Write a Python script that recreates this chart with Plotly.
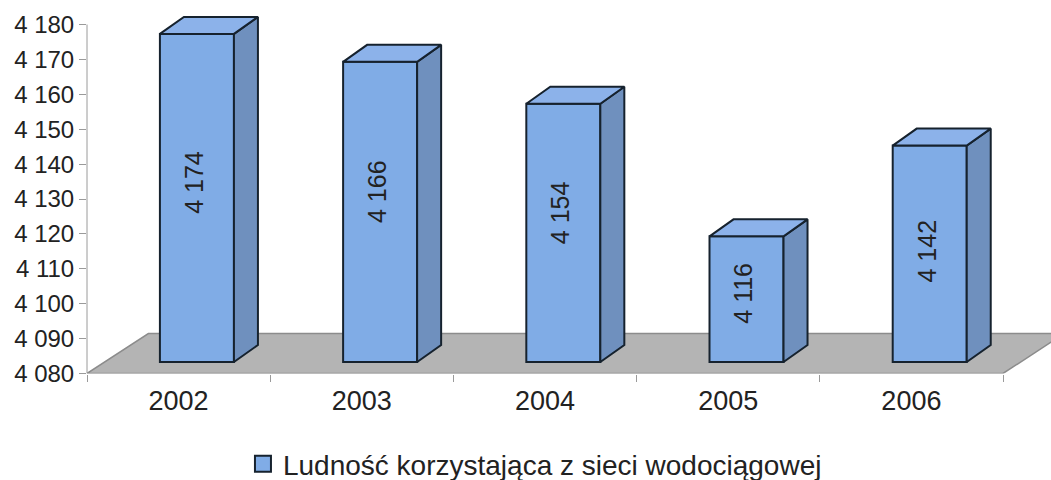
import plotly.graph_objects as go

years = ["2002", "2003", "2004", "2005", "2006"]
values = [4174, 4166, 4154, 4116, 4142]
y_ticks = [4080, 4090, 4100, 4110, 4120, 4130, 4140, 4150, 4160, 4170, 4180]
series_name = "Ludność korzystająca z sieci wodociągowej"

# geometry of the pseudo-3D look, in axis units
W, H = 1051, 480
Y_BASE = 4080
Y_TOP = 4180
Y_HEADROOM = 4186        # room above the axis for the bar tops
PX_PER_UNIT = 3.49
X_SHIFT, BAR_W = 0.10, 0.404
DEPTH_X, DEPTH_Y = 0.131, 4.87
FRONT_LIFT = 3.3
FLOOR_X, FLOOR_Y = 0.335, 11.46
LABEL_YSHIFT = [16, 20, 20, 6, 3]
FRONT, SIDE, TOP, EDGE = "#80ACE6", "#6F90BE", "#8CB2EA", "#16222E"
FLOOR, FLOOR_EDGE, TEXT, AXIS = "#B4B4B4", "#8C8C8C", "#222222", "#9A9A9A"
FONT = "Liberation Sans"

px_x = 183.2
x_end = (W - 87) / px_x
centers = [i + 0.5 for i in range(len(years))]
fmt = lambda v: f"{v // 1000} {v % 1000:03d}"

fig = go.Figure()
fig.add_trace(go.Bar(
    x=[c + X_SHIFT for c in centers],
    y=[v - Y_BASE for v in values],
    base=Y_BASE + FRONT_LIFT,
    width=BAR_W,
    marker=dict(color=FRONT, line=dict(color=EDGE, width=2)),
    showlegend=False,
    hoverinfo="skip",
))
for c, v in zip(centers, values):
    xl = c + X_SHIFT - BAR_W / 2
    xr = c + X_SHIFT + BAR_W / 2
    yt = v + FRONT_LIFT
    yb = Y_BASE + FRONT_LIFT
    fig.add_trace(go.Scatter(
        x=[xr, xr + DEPTH_X, xr + DEPTH_X, xr, xr],
        y=[yb, yb + DEPTH_Y, yt + DEPTH_Y, yt, yb],
        mode="lines", fill="toself", fillcolor=SIDE,
        line=dict(color=EDGE, width=2),
        showlegend=False, hoverinfo="skip",
    ))
    fig.add_trace(go.Scatter(
        x=[xl, xl + DEPTH_X, xr + DEPTH_X, xr, xl],
        y=[yt, yt + DEPTH_Y, yt + DEPTH_Y, yt, yt],
        mode="lines", fill="toself", fillcolor=TOP,
        line=dict(color=EDGE, width=2),
        showlegend=False, hoverinfo="skip",
    ))
fig.add_trace(go.Scatter(
    x=[None], y=[None], mode="markers", name=series_name,
    marker=dict(symbol="square", size=16, color=FRONT, line=dict(color=EDGE, width=2)),
))

for c, v, s in zip(centers, values, LABEL_YSHIFT):
    fig.add_annotation(
        x=c + X_SHIFT, y=(v + Y_BASE) / 2 + FRONT_LIFT, xshift=-3, yshift=s,
        text=fmt(v), textangle=-90, showarrow=False,
        font=dict(family=FONT, size=25, color=TEXT),
    )

fig.add_shape(
    type="path", layer="below",
    path=f"M 0 {Y_BASE} L 5 {Y_BASE} L {5 + FLOOR_X} {Y_BASE + FLOOR_Y} "
         f"L {FLOOR_X} {Y_BASE + FLOOR_Y} Z",
    fillcolor=FLOOR, line=dict(color=FLOOR_EDGE, width=1.5),
)
fig.add_shape(
    type="line", layer="below", xref="paper", yref="y",
    x0=87 / W, x1=87 / W, y0=Y_BASE, y1=Y_TOP,
    line=dict(color=AXIS, width=1),
)

fig.update_layout(
    width=W, height=H, autosize=False,
    margin=dict(l=0, r=0, t=0, b=0, autoexpand=False),
    paper_bgcolor="white", plot_bgcolor="rgba(0,0,0,0)",
    font=dict(family=FONT, color=TEXT),
    legend=dict(
        orientation="h", x=0.509, xanchor="center", y=-0.019, yanchor="bottom",
        font=dict(family=FONT, size=28, color=TEXT), itemwidth=30,
        bgcolor="rgba(0,0,0,0)",
    ),
    xaxis=dict(
        domain=[87 / W, 1], range=[0, x_end],
        tickmode="array", tickvals=centers, ticktext=years,
        ticks="", showline=False, showgrid=False, zeroline=False,
        tickfont=dict(family=FONT, size=27, color=TEXT),
        ticklabelstandoff=8,
        minor=dict(tickmode="array", tickvals=list(range(len(years) + 1)),
                   ticks="outside", ticklen=7, tickcolor=AXIS, showgrid=False),
    ),
    yaxis=dict(
        domain=[(H - 373.5) / H,
                (H - 373.5 + (Y_HEADROOM - Y_BASE) * PX_PER_UNIT) / H],
        range=[Y_BASE, Y_HEADROOM],
        tickmode="array", tickvals=y_ticks, ticktext=[fmt(t) for t in y_ticks],
        ticks="outside", ticklen=7, tickcolor=AXIS,
        showline=False,
        showgrid=False, zeroline=False,
        tickfont=dict(family=FONT, size=24, color=TEXT),
    ),
)

fig.write_html(
    "out.html",
    config=dict(displayModeBar=False),
    post_script="document.body.style.margin='0';document.documentElement.style.overflow='hidden';",
)
